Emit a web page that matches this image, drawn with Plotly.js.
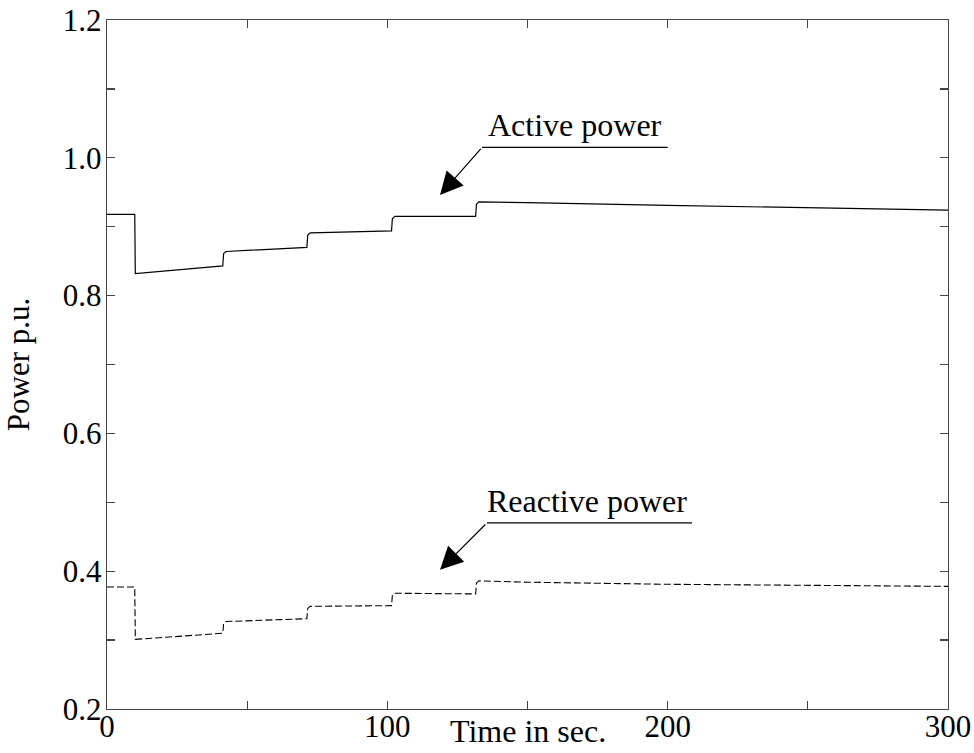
<!DOCTYPE html>
<html>
<head>
<meta charset="utf-8">
<script src="https://cdn.plot.ly/plotly-3.0.1.min.js"></script>
<style>html,body{margin:0;padding:0;background:#fff;}#chart{width:974px;height:753px;}</style>
</head>
<body>
<div id="chart"></div>
<script>
// Time points (s)
const timeSec = [0, 9.9, 10.1, 41.3, 41.6, 42.5, 71.3, 71.6, 72.5, 101.5, 101.8, 102.7, 131.5, 131.8, 132.7, 150, 200, 250, 300];
// Active power (p.u.)
const activePower = [0.918, 0.918, 0.832, 0.843, 0.861, 0.864, 0.870, 0.888, 0.891, 0.894, 0.912, 0.915, 0.915, 0.933, 0.936, 0.935, 0.931, 0.928, 0.924];
// Reactive power (p.u.)
const reactivePower = [0.377, 0.377, 0.301, 0.310, 0.324, 0.327, 0.331, 0.346, 0.349, 0.350, 0.365, 0.368, 0.367, 0.383, 0.386, 0.384, 0.381, 0.379, 0.378];

const xTickVals = [0, 50, 100, 150, 200, 250, 300];
const xTickText = ['0', '', '100', '', '200', '', '300'];
const yTickVals = [0.2, 0.3, 0.4, 0.5, 0.6, 0.7, 0.8, 0.9, 1.0, 1.1, 1.2];
const yTickText = ['0.2', '', '0.4', '', '0.6', '', '0.8', '', '1.0', '', '1.2'];

const FONT = '"Liberation Serif", "Times New Roman", serif';

const traces = [
  {x: timeSec, y: activePower, type: 'scatter', mode: 'lines', name: 'Active power',
   line: {color: '#000', width: 1.2}},
  {x: timeSec, y: reactivePower, type: 'scatter', mode: 'lines', name: 'Reactive power',
   line: {color: '#000', width: 1.1, dash: '7px,3px'}}
];

const axisCommon = {
  showline: true, linecolor: '#444', linewidth: 1.2, mirror: 'ticks',
  ticks: 'inside', ticklen: 8, tickcolor: '#444', tickwidth: 1.2,
  showgrid: false, zeroline: false, tickmode: 'array',
  tickfont: {family: FONT, size: 31, color: '#000'}
};

const layout = {
  width: 974, height: 753,
  margin: {l: 107, r: 26, t: 20, b: 44},
  paper_bgcolor: '#fff', plot_bgcolor: '#fff',
  showlegend: false,
  font: {family: FONT, color: '#000'},
  xaxis: Object.assign({}, axisCommon, {range: [0, 300], tickvals: xTickVals, ticktext: xTickText,
    ticklabelstandoff: -10}),
  yaxis: Object.assign({}, axisCommon, {range: [0.2, 1.2], tickvals: yTickVals, ticktext: yTickText,
    ticklabelstandoff: -2,
    title: {text: 'Power p.u.', font: {family: FONT, size: 31, color: '#000'}, standoff: 24}}),
  shapes: [
    {type: 'line', xref: 'x', yref: 'y', x0: 133.8, y0: 1.015, x1: 200, y1: 1.015, line: {color: '#000', width: 1.2}},
    {type: 'line', xref: 'x', yref: 'y', x0: 135.5, y0: 0.470, x1: 208.7, y1: 0.470, line: {color: '#000', width: 1.2}}
  ],
  annotations: [
    {x: 118.8, y: 0.946, xref: 'x', yref: 'y', ax: 133.8, ay: 1.015, axref: 'x', ayref: 'y',
     text: '', showarrow: true, arrowhead: 2, arrowsize: 3.8, arrowwidth: 1.2, arrowcolor: '#000', standoff: 0},
    {x: 118.8, y: 0.402, xref: 'x', yref: 'y', ax: 135.5, ay: 0.470, axref: 'x', ayref: 'y',
     text: '', showarrow: true, arrowhead: 2, arrowsize: 3.8, arrowwidth: 1.2, arrowcolor: '#000', standoff: 0},
    {x: 167, y: 1.047, xref: 'x', yref: 'y', text: 'Active power', showarrow: false,
     font: {family: FONT, size: 32, color: '#000'}},
    {x: 171.4, y: 0.502, xref: 'x', yref: 'y', text: 'Reactive power', showarrow: false,
     font: {family: FONT, size: 32, color: '#000'}},
    {x: 0.5, y: -0.0595, xref: 'paper', yref: 'paper', text: 'Time in sec.', showarrow: false,
     xanchor: 'center', yanchor: 'bottom', borderpad: 0, font: {family: FONT, size: 32, color: '#000'}}
  ]
};

Plotly.newPlot('chart', traces, layout, {displayModeBar: false, staticPlot: true});
</script>
</body>
</html>
